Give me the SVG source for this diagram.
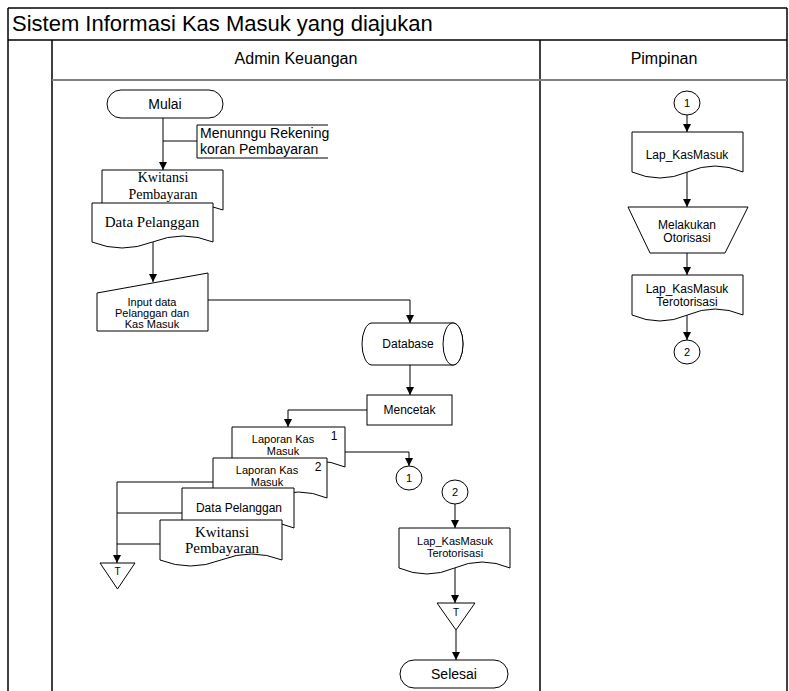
<svg xmlns="http://www.w3.org/2000/svg" width="789" height="691" viewBox="0 0 789 691">
<style>
.frame{stroke:#000;stroke-width:1.5;fill:none}
.hdr{stroke:#808080;stroke-width:2;fill:none}
.shape{fill:#fff;stroke:#000;stroke-width:1}
.conn{stroke:#000;stroke-width:1;fill:none}
.arr{marker-end:url(#arrow)}
text{font-family:"Liberation Sans",Arial,sans-serif;fill:#000;text-anchor:middle}
.title{font-size:22px;text-anchor:start}
.lane{font-size:16px}
.t14{font-size:14px}
.t12{font-size:12px}
.t11{font-size:11px}
.t10{font-size:10px}
.serif{font-family:"Liberation Serif","Times New Roman",serif;font-size:15px}
.serif14{font-family:"Liberation Serif","Times New Roman",serif;font-size:14px}
.note{font-size:14px;text-anchor:start}
</style>
<defs>
<marker id="arrow" markerWidth="8" markerHeight="8" refX="8" refY="4" orient="auto" markerUnits="userSpaceOnUse">
<path d="M0,0 L8,4 L0,8 Z" fill="#000"/>
</marker>
</defs>

<g id="frame">
<line class="frame" x1="8" y1="8" x2="787" y2="8"/>
<line class="frame" x1="8" y1="8" x2="8" y2="691"/>
<line class="frame" x1="787" y1="8" x2="787" y2="691"/>
<line class="frame" x1="8" y1="40" x2="787" y2="40"/>
<line class="frame" x1="52" y1="40" x2="52" y2="691"/>
<line class="frame" x1="540" y1="40" x2="540" y2="691"/>
<line class="hdr" x1="52" y1="80" x2="787" y2="80"/>
<text class="title" x="12" y="31">Sistem Informasi Kas Masuk yang diajukan</text>
<text class="lane" x="296" y="64">Admin Keuangan</text>
<text class="lane" x="664" y="64">Pimpinan</text>
</g>

<g id="connectors">
<path class="conn arr" d="M163,118 V170"/>
<path class="conn" d="M163,141 H197"/>
<path class="conn arr" d="M153,242 V282"/>
<path class="conn arr" d="M208,300 H410 V323"/>
<path class="conn arr" d="M410,365 V395"/>
<path class="conn arr" d="M367,410 H288 V427"/>
<path class="conn arr" d="M345,452 H409 V466"/>
<path class="conn arr" d="M213,482 H117 V563"/>
<path class="conn" d="M182,513 H117"/>
<path class="conn" d="M160,544 H117"/>
<path class="conn arr" d="M455,504 V528"/>
<path class="conn arr" d="M455,566 V603"/>
<path class="conn arr" d="M456,630 V660"/>
<path class="conn arr" d="M687,115 V132"/>
<path class="conn arr" d="M687,172 V207"/>
<path class="conn arr" d="M687,253 V275"/>
<path class="conn arr" d="M687,315 V340"/>
</g>

<g id="mulai">
<rect class="shape" x="107" y="90" width="116" height="28" rx="14"/>
<text class="t14" x="165" y="109">Mulai</text>
</g>

<g id="note-menunggu">
<path class="conn" d="M328,125 H197 V158 H328"/>
<text class="note" x="200" y="138">Menunngu Rekening</text>
<text class="note" x="200" y="154">koran Pembayaran</text>
</g>

<g id="doc-kwitansi-1">
<path class="shape" d="M102,170 H223 V210 Q193,198 162.5,210 T102,210 Z"/>
<text class="serif14" x="163" y="182">Kwitansi</text>
<text class="serif14" x="163" y="199">Pembayaran</text>
</g>

<g id="doc-pelanggan-1">
<path class="shape" d="M92,203 H213 V242 Q183,230 152.5,242 T92,242 Z"/>
<text class="serif" x="152" y="227">Data Pelanggan</text>
</g>

<g id="input-data">
<polygon class="shape" points="97,293 208,273 208,331 97,331"/>
<text class="t11" x="152" y="306">Input data</text>
<text class="t11" x="152" y="317">Pelanggan dan</text>
<text class="t11" x="152" y="328">Kas Masuk</text>
</g>

<g id="database">
<path class="shape" d="M372,323 H453 A10,21 0 0 1 453,365 H372 A10,21 0 0 1 372,323 Z"/>
<ellipse class="shape" cx="453" cy="344" rx="10" ry="21"/>
<text class="t12" x="408" y="348">Database</text>
</g>

<g id="mencetak">
<rect class="shape" x="367" y="395" width="85" height="30"/>
<text class="t12" x="409.5" y="414">Mencetak</text>
</g>

<g id="doc-laporan-1">
<path class="shape" d="M232,427 H345 V467 Q317,455 288.5,467 T232,467 Z"/>
<text class="t11" x="283" y="443">Laporan Kas</text>
<text class="t11" x="283" y="455">Masuk</text>
<text class="t12" x="334" y="440">1</text>
</g>

<g id="doc-laporan-2">
<path class="shape" d="M213,458 H327 V498 Q298.5,486 270,498 T213,498 Z"/>
<text class="t11" x="267" y="474">Laporan Kas</text>
<text class="t11" x="267" y="486">Masuk</text>
<text class="t12" x="318" y="471">2</text>
</g>

<g id="doc-pelanggan-2">
<path class="shape" d="M182,488 H294 V528 Q266,516 238,528 T182,528 Z"/>
<text class="t12" x="239" y="512">Data Pelanggan</text>
</g>

<g id="doc-kwitansi-2">
<path class="shape" d="M160,520 H282 V560 Q251.5,548 221,560 T160,560 Z"/>
<text class="serif" x="222" y="537">Kwitansi</text>
<text class="serif" x="222" y="553">Pembayaran</text>
</g>

<g id="arsip-t-1">
<polygon class="shape" points="100,563 135,563 117.5,589"/>
<text class="t10" x="117.5" y="575">T</text>
</g>

<g id="connector-1-admin">
<ellipse class="shape" cx="409" cy="478" rx="13" ry="12"/>
<text class="t11" x="409" y="482">1</text>
</g>

<g id="connector-2-admin">
<ellipse class="shape" cx="455" cy="492" rx="13" ry="12"/>
<text class="t11" x="455" y="496">2</text>
</g>

<g id="doc-terotorisasi-admin">
<path class="shape" d="M399,528 H510 V568 Q482,556 454.5,568 T399,568 Z"/>
<text class="t11" x="455" y="545">Lap_KasMasuk</text>
<text class="t11" x="455" y="557">Terotorisasi</text>
</g>

<g id="arsip-t-2">
<polygon class="shape" points="437,603 475,603 456,630"/>
<text class="t10" x="456" y="616">T</text>
</g>

<g id="selesai">
<rect class="shape" x="400" y="660" width="108" height="28" rx="14"/>
<text class="t14" x="454" y="679">Selesai</text>
</g>

<g id="connector-1-pimpinan">
<ellipse class="shape" cx="687" cy="103" rx="13" ry="12"/>
<text class="t11" x="687" y="107">1</text>
</g>

<g id="doc-lap-kasmasuk">
<path class="shape" d="M632,132 H743 V172 Q715,160 687.5,172 T632,172 Z"/>
<text class="t12" x="687" y="159">Lap_KasMasuk</text>
</g>

<g id="otorisasi">
<polygon class="shape" points="628,207 748,207 725,253 650,253"/>
<text class="t12" x="687" y="229">Melakukan</text>
<text class="t12" x="687" y="242">Otorisasi</text>
</g>

<g id="doc-terotorisasi-pimpinan">
<path class="shape" d="M632,275 H743 V315 Q715,303 687.5,315 T632,315 Z"/>
<text class="t12" x="687" y="293">Lap_KasMasuk</text>
<text class="t12" x="687" y="306">Terotorisasi</text>
</g>

<g id="connector-2-pimpinan">
<ellipse class="shape" cx="687" cy="352" rx="13" ry="12"/>
<text class="t11" x="687" y="356">2</text>
</g>
</svg>
